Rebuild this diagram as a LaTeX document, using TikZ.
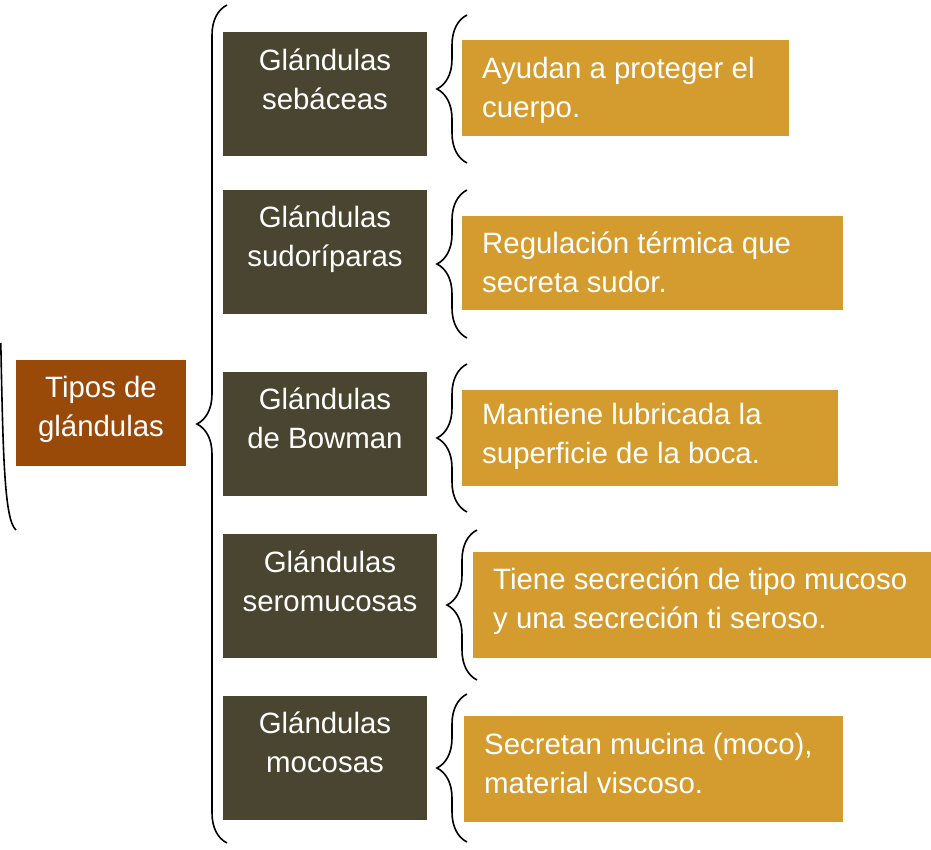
\documentclass[tikz,border=0pt]{standalone}
\usepackage{fontspec}
\setmainfont{Liberation Sans}
\usetikzlibrary{decorations.pathreplacing,fit}
\definecolor{darkbox}{HTML}{4A4530}
\definecolor{goldbox}{HTML}{D49C2F}
\definecolor{brownbox}{HTML}{9A4A08}
\begin{document}
\begin{tikzpicture}[x=1pt,y=-1pt,
  boxshape/.style={inner sep=0pt, draw=none},
  darkshape/.style={boxshape, fill=darkbox},
  goldshape/.style={boxshape, fill=goldbox},
  brownshape/.style={boxshape, fill=brownbox},
  txt/.style={text=white, inner sep=0pt, font=\fontsize{29.4}{39}\selectfont},
  ctxt/.style={txt, align=center},
  ltxt/.style={txt, align=left, anchor=west},
  bracepath/.style={draw=black, line width=1.6pt, decorate,
     decoration={brace, amplitude=30pt, aspect=0.5}},
]
\useasboundingbox (0,0) rectangle (931,849);

% root
\node[brownshape, fit={(16,360) (186,466)}] (root) {};
\node[ctxt] (troot) at (101,408.7) {\strut Tipos de\\gl\'andulas\strut};

% dark boxes
\node[darkshape, fit={(223,32) (427,156)}] (d1) {};
\node[darkshape, fit={(223,190) (427,314)}] (d2) {};
\node[darkshape, fit={(223,372) (427,496)}] (d3) {};
\node[darkshape, fit={(223,534) (437,658)}] (d4) {};
\node[darkshape, fit={(223,696) (427,820)}] (d5) {};
\node[ctxt] (td1) at (325,81.7) {\strut Gl\'andulas\\seb\'aceas\strut};
\node[ctxt] (td2) at (325,238.7) {\strut Gl\'andulas\\sudor\'iparas\strut};
\node[ctxt] (td3) at (325,420.7) {\strut Gl\'andulas\\de Bowman\strut};
\node[ctxt] (td4) at (330,583.7) {\strut Gl\'andulas\\seromucosas\strut};
\node[ctxt] (td5) at (325,744.7) {\strut Gl\'andulas\\mocosas\strut};

% gold boxes
\node[goldshape, fit={(462,40) (789,136)}] (g1) {};
\node[goldshape, fit={(462,216) (843,310)}] (g2) {};
\node[goldshape, fit={(462,390) (838,486)}] (g3) {};
\node[goldshape, fit={(473,552) (931,658)}] (g4) {};
\node[goldshape, fit={(464,716) (843,822)}] (g5) {};
\node[ltxt] (tg1) at (482,89.7) {\strut Ayudan a proteger el\\cuerpo.\strut};
\node[ltxt] (tg2) at (482,264.7) {\strut Regulaci\'on t\'ermica que\\secreta sudor.\strut};
\node[ltxt] (tg3) at (482,435.7) {\strut Mantiene lubricada la\\superficie de la boca.\strut};
\node[ltxt] (tg4) at (493,600.7) {\strut Tiene secreci\'on de tipo mucoso\\y una secreci\'on ti seroso.\strut};
\node[ltxt] (tg5) at (484,765.7) {\strut Secretan mucina (moco),\\material viscoso.\strut};

% braces
\coordinate (B0a) at (227,843); \coordinate (B0b) at (227,5);
\draw[bracepath] (B0a) -- (B0b);
\coordinate (B1a) at (467,163); \coordinate (B1b) at (467,15);
\draw[bracepath] (B1a) -- (B1b);
\coordinate (B2a) at (467,338); \coordinate (B2b) at (467,190);
\draw[bracepath] (B2a) -- (B2b);
\coordinate (B3a) at (467,512); \coordinate (B3b) at (467,364);
\draw[bracepath] (B3a) -- (B3b);
\coordinate (B4a) at (477,680); \coordinate (B4b) at (477,530);
\draw[bracepath] (B4a) -- (B4b);
\coordinate (B5a) at (467,842); \coordinate (B5b) at (467,694);
\draw[bracepath] (B5a) -- (B5b);

% left partial bracket
\coordinate (L1) at (0.8,343); \coordinate (L2) at (16,530);
\draw[line width=1.6pt] (L1) .. controls (3,450) and (4,520) .. (L2);
\end{tikzpicture}
\end{document}
